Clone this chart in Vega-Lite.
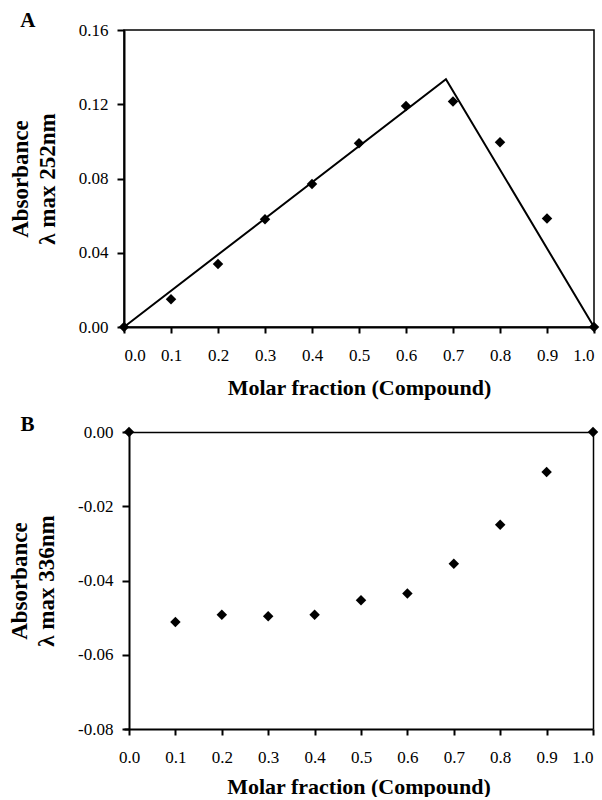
{
  "$schema": "https://vega.github.io/schema/vega-lite/v6.json",
  "padding": {"left": 8, "top": 9, "right": 4, "bottom": 0},
  "spacing": 15,
  "datasets": {
    "a_points": [
      {"fraction": 0.0, "absorbance": 0.0},
      {"fraction": 0.1, "absorbance": 0.015},
      {"fraction": 0.2, "absorbance": 0.034},
      {"fraction": 0.3, "absorbance": 0.058},
      {"fraction": 0.4, "absorbance": 0.077},
      {"fraction": 0.5, "absorbance": 0.099},
      {"fraction": 0.6, "absorbance": 0.119},
      {"fraction": 0.7, "absorbance": 0.1215},
      {"fraction": 0.8, "absorbance": 0.0995},
      {"fraction": 0.9, "absorbance": 0.0585},
      {"fraction": 1.0, "absorbance": 0.0}
    ],
    "a_fit": [
      {"fraction": 0.0, "absorbance": 0.0},
      {"fraction": 0.685, "absorbance": 0.1335},
      {"fraction": 1.0, "absorbance": 0.0}
    ],
    "b_points": [
      {"fraction": 0.0, "absorbance": 0.0},
      {"fraction": 0.1, "absorbance": -0.0512},
      {"fraction": 0.2, "absorbance": -0.0492},
      {"fraction": 0.3, "absorbance": -0.0496},
      {"fraction": 0.4, "absorbance": -0.0492},
      {"fraction": 0.5, "absorbance": -0.0453},
      {"fraction": 0.6, "absorbance": -0.0435},
      {"fraction": 0.7, "absorbance": -0.0355},
      {"fraction": 0.8, "absorbance": -0.025},
      {"fraction": 0.9, "absorbance": -0.0108},
      {"fraction": 1.0, "absorbance": 0.0}
    ]
  },
  "config": {
    "font": "Liberation Serif",
    "view": {"stroke": "black", "strokeWidth": 1.5},
    "axis": {
      "grid": false,
      "domainColor": "black",
      "domainWidth": 2,
      "tickColor": "black",
      "tickWidth": 2,
      "labelColor": "black",
      "labelFont": "Liberation Serif",
      "labelFontSize": 17,
      "titleColor": "black",
      "titleFont": "Liberation Serif",
      "titleFontWeight": "bold"
    },
    "axisX": {"tickSize": 6, "labelPadding": 14, "titleFontSize": 22, "titlePadding": 14},
    "axisY": {"tickSize": 7, "labelPadding": 9, "titleFontSize": 23, "titleLineHeight": 27, "titlePadding": 19},
    "title": {
      "anchor": "start",
      "frame": "bounds",
      "font": "Liberation Serif",
      "fontSize": 21,
      "fontWeight": "bold",
      "color": "black"
    }
  },
  "vconcat": [
    {
      "title": {"text": "A", "dx": 11, "offset": -10},
      "width": 470,
      "height": 297,
      "layer": [
        {
          "data": {"name": "a_fit"},
          "mark": {"type": "line", "color": "black", "strokeWidth": 2},
          "encoding": {
            "x": {"field": "fraction", "type": "quantitative"},
            "y": {"field": "absorbance", "type": "quantitative"}
          }
        },
        {
          "data": {"name": "a_points"},
          "mark": {"type": "point", "shape": "diamond", "filled": true, "color": "black", "size": 110, "opacity": 1},
          "encoding": {
            "x": {
              "field": "fraction", "type": "quantitative",
              "scale": {"domain": [0, 1], "nice": false, "zero": false},
              "axis": {"values": [0, 0.1, 0.2, 0.3, 0.4, 0.5, 0.6, 0.7, 0.8, 0.9, 1.0], "format": ".1f", "title": "Molar fraction (Compound)"}
            },
            "y": {
              "field": "absorbance", "type": "quantitative",
              "scale": {"domain": [0, 0.16], "nice": false},
              "axis": {"values": [0, 0.04, 0.08, 0.12, 0.16], "format": ".2f", "title": ["Absorbance", "λ max 252nm"]}
            }
          }
        }
      ]
    },
    {
      "title": {"text": "B", "dx": 12, "offset": -12},
      "width": 469,
      "height": 297,
      "view": {"stroke": null},
      "data": {"name": "b_points"},
      "resolve": {"axis": {"x": "independent", "y": "independent"}},
      "layer": [
        {
          "mark": {"type": "point", "shape": "diamond", "filled": true, "color": "black", "size": 110, "opacity": 1},
          "encoding": {
            "x": {
              "field": "fraction", "type": "quantitative",
              "scale": {"domain": [-0.0108, 1], "nice": false, "zero": false},
              "axis": {"values": [0, 0.1, 0.2, 0.3, 0.4, 0.5, 0.6, 0.7, 0.8, 0.9, 1.0], "format": ".1f", "title": "Molar fraction (Compound)", "titlePadding": 11}
            },
            "y": {
              "field": "absorbance", "type": "quantitative",
              "scale": {"domain": [-0.08, 0], "nice": false, "zero": false},
              "axis": {"values": [-0.08, -0.06, -0.04, -0.02, 0], "format": ".2f", "offset": -5, "labelExpr": "replace(datum.label, '−', '-')", "title": ["Absorbance", "λ max 336nm"]}
            }
          }
        },
        {
          "mark": {"type": "point", "shape": "diamond", "filled": true, "color": "black", "size": 110, "opacity": 0},
          "encoding": {
            "x": {
              "field": "fraction", "type": "quantitative",
              "axis": {"orient": "top", "ticks": false, "labels": false, "title": null, "domainWidth": 1.5}
            },
            "y": {
              "field": "absorbance", "type": "quantitative",
              "axis": {"orient": "right", "ticks": false, "labels": false, "title": null, "domainWidth": 1.5}
            }
          }
        }
      ]
    }
  ]
}
